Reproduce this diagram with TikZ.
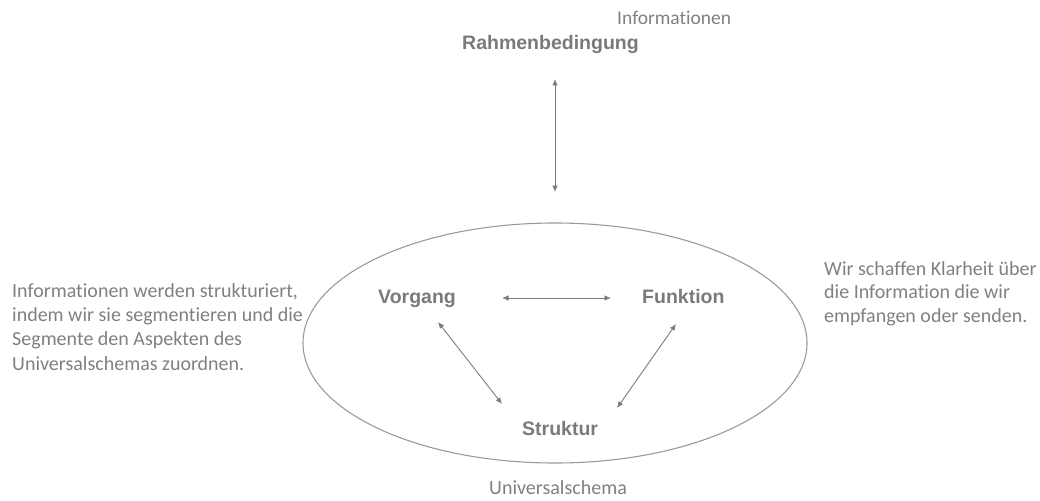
\documentclass[tikz,border=0pt]{standalone}
\usepackage{fontspec}
\newfontfamily\cali{Carlito}[Ligatures={NoCommon}]
\newfontfamily\arl{Liberation Sans}
\usetikzlibrary{arrows.meta,shapes.geometric}
\definecolor{txtgray}{HTML}{808080}
\definecolor{boldgray}{HTML}{7A7A7A}
\definecolor{arrgray}{HTML}{7C7C7C}
\definecolor{ellgray}{HTML}{9A9A9A}
\tikzset{
  note/.style={inner sep=0pt, text=txtgray, font=\cali\fontsize{20}{24.2}\selectfont, align=left},
  aspect/.style={inner sep=0pt, text=boldgray, font=\arl\bfseries\fontsize{19.5}{23}\selectfont},
  link/.style={draw=arrgray, line width=0.9pt, {Latex[length=6.5pt,width=5.5pt]}-{Latex[length=6.5pt,width=5.5pt]}},
  schema/.style={draw=ellgray, line width=1.1pt}
}
\begin{document}
\begin{tikzpicture}[x=1pt,y=-1pt]
\useasboundingbox (0,0) rectangle (1040,500);
% ellipse
\node[schema, ellipse, minimum width=504pt, minimum height=240pt, inner sep=0pt] (ell) at (555,343) {};
% texts
\node[note, anchor=base west, font=\cali\fontsize{19.5}{23}\selectfont] (info) at (617,25) {Informationen};
\node[aspect, anchor=base west] (rahmen) at (462,50) {Rahmenbedingung};
\node[aspect, anchor=base west] (vorgang) at (378,303) {Vorgang};
\node[aspect, anchor=base west] (funktion) at (642,303) {Funktion};
\node[aspect, anchor=base west] (struktur) at (522,435) {Struktur};
\node[note, anchor=base] (univ) at (558,494) {Universalschema};
\node[note, anchor=base west] (left) at (12,370) {Informationen werden strukturiert,\\indem wir sie segmentieren und die\\Segmente den Aspekten des\\Universalschemas zuordnen.};
\node[note, anchor=base west, font=\cali\fontsize{20}{23.5}\selectfont] (right) at (824,322) {Wir schaffen Klarheit über\\die Information die wir\\empfangen oder senden.};
% arrow endpoints
\coordinate (rT) at (555,79);
\coordinate (eT) at (555,192);
\coordinate (vE) at (502,298);
\coordinate (fW) at (611,298);
\coordinate (vS) at (438,322);
\coordinate (sL) at (502,404);
\coordinate (fS) at (676,324);
\coordinate (sR) at (617,408);
\draw[link] (rT) -- (eT);
\draw[link] (vE) -- (fW);
\draw[link] (vS) -- (sL);
\draw[link] (fS) -- (sR);
\end{tikzpicture}
\end{document}
